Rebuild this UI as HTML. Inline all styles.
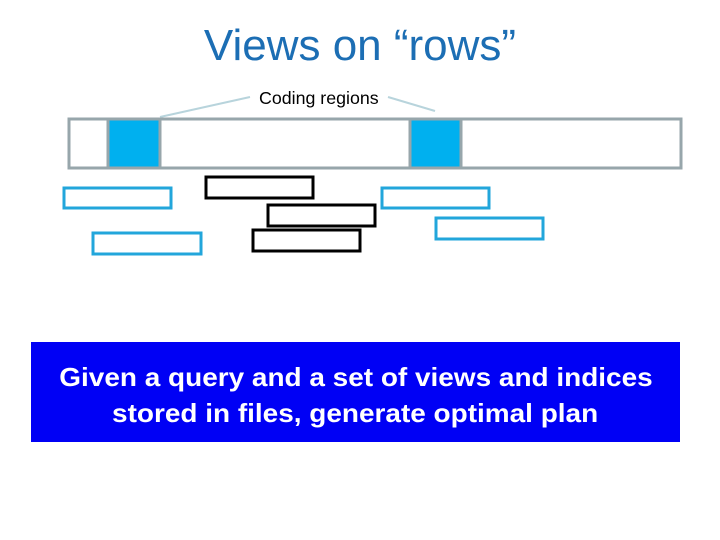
<!DOCTYPE html>
<html><head><style>
body{margin:0;width:720px;height:540px;background:#fff;position:relative;overflow:hidden;font-family:"Liberation Sans",sans-serif}
.t{position:absolute;left:0;width:720px;top:21px;text-align:center;font-size:44px;color:#1c6eb4}
.b{position:absolute;left:31px;top:342px;width:649px;height:100px;background:#0000f5;color:#fff;font-weight:bold;font-size:24px;text-align:center;line-height:34px;box-sizing:border-box;padding-top:18px;white-space:nowrap}
.b span{display:inline-block;font-size:26px;transform:scaleX(1.075)}
.l{position:absolute;left:259px;top:88px;font-size:17.8px;color:#000}
</style></head><body>
<div class="t">Views on “rows”</div>
<svg width="720" height="540" style="position:absolute;left:0;top:0">
<line x1="160" y1="117" x2="250" y2="97" stroke="#b8d4dc" stroke-width="2"/>
<line x1="388" y1="97" x2="435" y2="111" stroke="#b8d4dc" stroke-width="2"/>
<rect x="69" y="119" width="612" height="49" fill="#fff" stroke="#97a6ab" stroke-width="3"/>
<rect x="108" y="119" width="52" height="49" fill="#00b0ef" stroke="#97a6ab" stroke-width="3"/>
<rect x="410" y="119" width="51" height="49" fill="#00b0ef" stroke="#97a6ab" stroke-width="3"/>
<g fill="none" stroke="#22a6db" stroke-width="3">
<rect x="64" y="188" width="107" height="20"/>
<rect x="93" y="233" width="108" height="21"/>
<rect x="382" y="188" width="107" height="20"/>
<rect x="436" y="218" width="107" height="21"/>
</g>
<g fill="none" stroke="#000" stroke-width="3">
<rect x="206" y="177" width="107" height="21"/>
<rect x="268" y="205" width="107" height="21"/>
<rect x="253" y="230" width="107" height="21"/>
</g>
</svg>
<div class="l">Coding regions</div>
<div class="b"><span>Given a query and a set of views and indices</span><br><span>stored in files, generate optimal plan</span></div>
</body></html>
